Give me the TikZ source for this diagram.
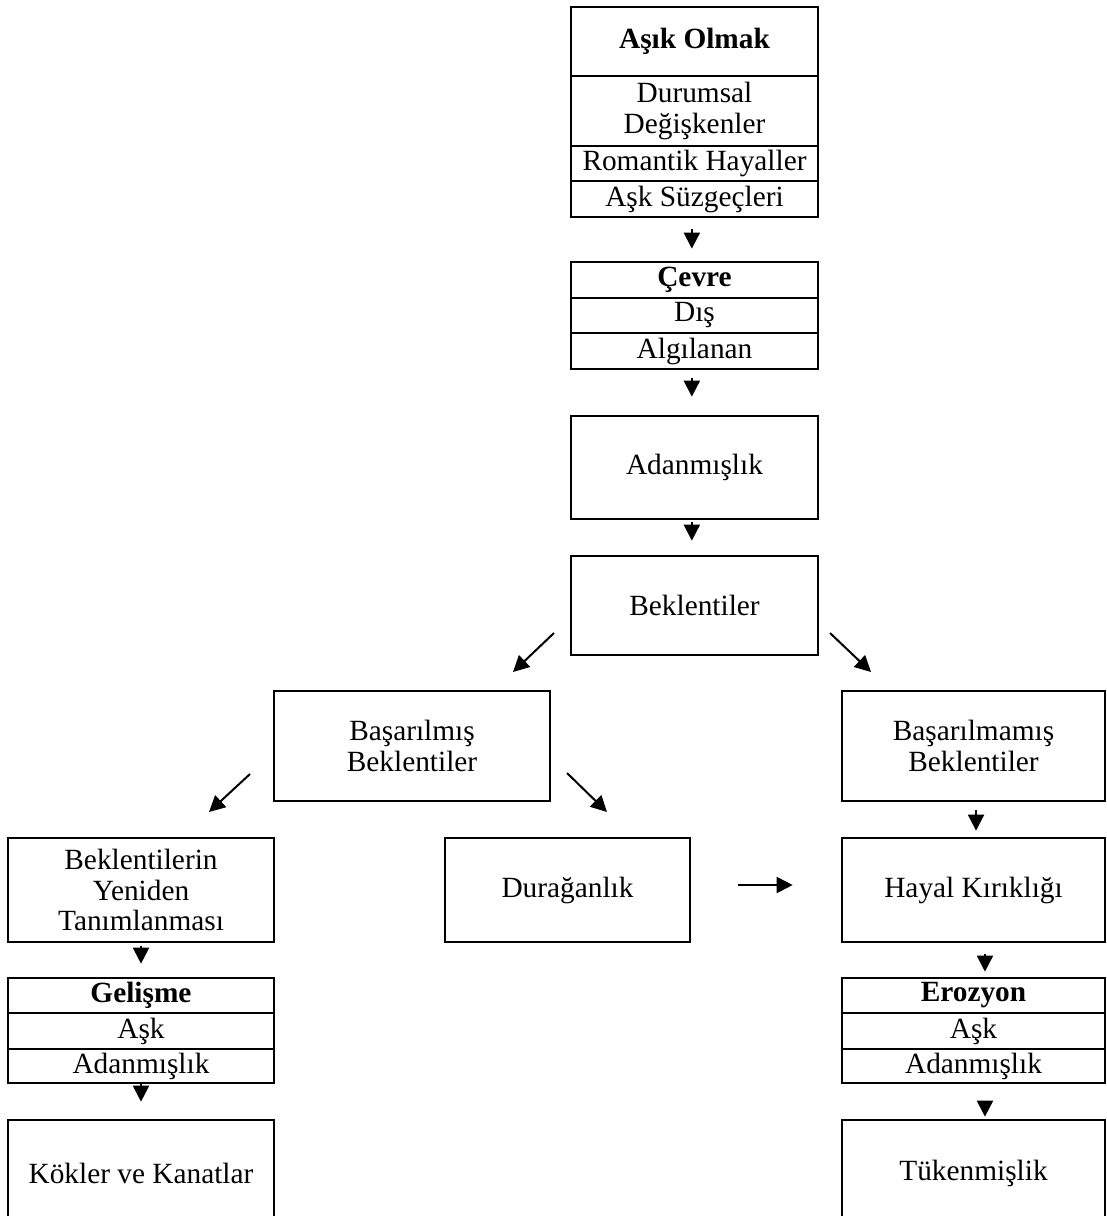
\documentclass[tikz,border=0pt]{standalone}
\usepackage{fontspec}
\setmainfont{Liberation Serif}
\usetikzlibrary{arrows.meta}
\tikzset{
  bx/.style 2 args={draw, line width=2pt, inner sep=0pt, align=center,
    minimum width=#1*0.75pt, minimum height=#2*0.75pt},
  arr/.style={line width=1.5pt, -{Triangle[length=12pt,width=12pt]}},
}
\begin{document}
\begin{tikzpicture}[x=0.75pt, y=-0.75pt, font=\fontsize{22pt}{23pt}\selectfont]
\useasboundingbox (0,0) rectangle (1106,1216);
\clip (0,0) rectangle (1106,1216);
% top stack
\node[bx={247}{69}] (ao1) at (694.5,41.5) {\textbf{Aşık Olmak}};
\node[bx={247}{70}] (ao2) at (694.5,111) {Durumsal\\Değişkenler};
\node[bx={247}{35}] (ao3) at (694.5,163.5) {Romantik Hayaller};
\node[bx={247}{36}] (ao4) at (694.5,199) {Aşk Süzgeçleri};
% cevre
\node[bx={247}{36}] (cv1) at (694.5,280) {\textbf{Çevre}};
\node[bx={247}{35}] (cv2) at (694.5,315.5) {Dış};
\node[bx={247}{36}] (cv3) at (694.5,351) {Algılanan};
\node[bx={247}{103}] (adan) at (694.5,467.5) {Adanmışlık};
\node[bx={247}{99}] (bek) at (694.5,605.5) {Beklentiler};
% second level
\node[bx={276}{110}] (bas) at (412,746) {Başarılmış\\Beklentiler};
\node[bx={263}{110}] (basm) at (973.5,746) {Başarılmamış\\Beklentiler};
% third level
\node[bx={266}{104}] (bty) at (141,890) {Beklentilerin\\Yeniden\\Tanımlanması};
\node[bx={245}{104}] (dur) at (567.5,890) {Durağanlık};
\node[bx={263}{104}] (hay) at (973.5,890) {Hayal Kırıklığı};
% left bottom
\node[bx={266}{35}] (gel1) at (141,995.5) {\textbf{Gelişme}};
\node[bx={266}{36}] (gel2) at (141,1031) {Aşk};
\node[bx={266}{34}] (gel3) at (141,1066) {Adanmışlık};
\node[bx={266}{106}] (kok) at (141,1173) {Kökler ve Kanatlar};
% right bottom
\node[bx={263}{35}] (ero1) at (973.5,995.5) {\textbf{Erozyon}};
\node[bx={263}{36}] (ero2) at (973.5,1031) {Aşk};
\node[bx={263}{34}] (ero3) at (973.5,1066) {Adanmışlık};
\node[bx={263}{106}] (tuk) at (973.5,1173) {Tükenmişlik};
% vertical arrows
\draw[arr, shorten <=8.25pt, shorten >=9pt] ([xshift=-2pt]ao4.south) -- ([xshift=-2pt]cv1.north);
\draw[arr, shorten <=6pt, shorten >=13.5pt] ([xshift=-2pt]cv3.south) -- ([xshift=-2pt]adan.north);
\draw[arr, shorten <=1.5pt, shorten >=10.5pt] ([xshift=-2pt]adan.south) -- ([xshift=-2pt]bek.north);
\draw[arr, shorten <=2.25pt, shorten >=9.75pt] (bty.south) -- (gel1.north);
\draw[arr, shorten <=0pt, shorten >=12.75pt] (gel3.south) -- (kok.north);
\draw[arr, shorten <=6pt, shorten >=4.5pt] ([xshift=1.9pt]basm.south) -- ([xshift=1.9pt]hay.north);
\draw[arr, shorten <=8.25pt, shorten >=3.75pt] ([xshift=8.6pt]hay.south) -- ([xshift=8.6pt]ero1.north);
\draw[arr, shorten <=12.75pt, shorten >=1.5pt] ([xshift=8.6pt]ero3.south) -- ([xshift=8.6pt]tuk.north);
% horizontal arrow
\draw[arr, shorten <=35.25pt, shorten >=36pt] ([yshift=3.75pt]dur.east) -- ([yshift=3.75pt]hay.west);
% diagonal arrows
\coordinate (d1a) at (554,633); \coordinate (d1b) at (513,672);
\coordinate (d2a) at (830,633); \coordinate (d2b) at (871,672);
\coordinate (d3a) at (567,773); \coordinate (d3b) at (607,812);
\coordinate (d4a) at (250,774); \coordinate (d4b) at (209,812);
\draw[arr] (d1a) -- (d1b);
\draw[arr] (d2a) -- (d2b);
\draw[arr] (d3a) -- (d3b);
\draw[arr] (d4a) -- (d4b);
\end{tikzpicture}
\end{document}
